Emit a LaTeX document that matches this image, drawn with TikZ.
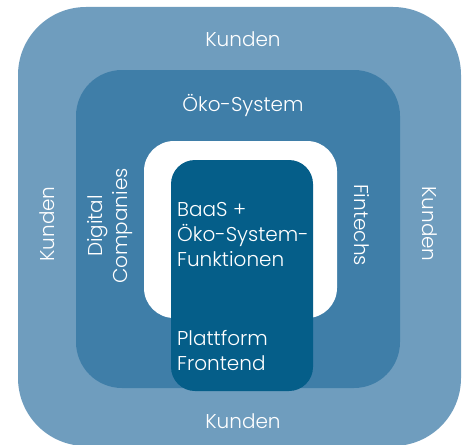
\documentclass[tikz,border=0pt]{standalone}
\usepackage{fontspec}
\setmainfont{Poppins Light}
\definecolor{kundenblue}{HTML}{6F9DBE}
\definecolor{oekoblue}{HTML}{3F7EA8}
\definecolor{coreblue}{HTML}{055E89}
\tikzset{
  lbl/.style={text=white, font=\fontsize{20}{25}\selectfont, inner sep=0pt},
  corelbl/.style={lbl, align=left, anchor=north west},
}
\begin{document}
\begin{tikzpicture}[x=1pt,y=-1pt]
\useasboundingbox (0,0) rectangle (465,444);
% layered boxes
\fill[kundenblue, rounded corners=68pt] (18,7) rectangle (461,446);
\fill[oekoblue, rounded corners=46pt] (76,70) rectangle (400,388);
\fill[white, rounded corners=30pt] (144,141) rectangle (337,318);
\fill[coreblue, rounded corners=24pt] (171,160) rectangle (313,391);
% outer ring
\node[lbl, anchor=base] (kTop) at (243,46) {Kunden};
\node[lbl, anchor=base] (kBottom) at (243,428) {Kunden};
\node[lbl, rotate=90] (kLeft) at (47,224) {Kunden};
\node[lbl, rotate=-90] (kRight) at (430,224) {Kunden};
% eco-system ring
\node[lbl, anchor=base] (eco) at (243,111) {Öko-System};
\node[lbl, rotate=90, align=center] (digital) at (110,226) {Digital\\Companies};
\node[lbl, rotate=-90] (fintechs) at (362,225) {Fintechs};
% core
\node[corelbl] (baas) at (177,202) {BaaS +\\Öko-System-\\Funktionen};
\node[corelbl] (plattform) at (177,330) {Plattform\\Frontend};
\end{tikzpicture}
\end{document}
